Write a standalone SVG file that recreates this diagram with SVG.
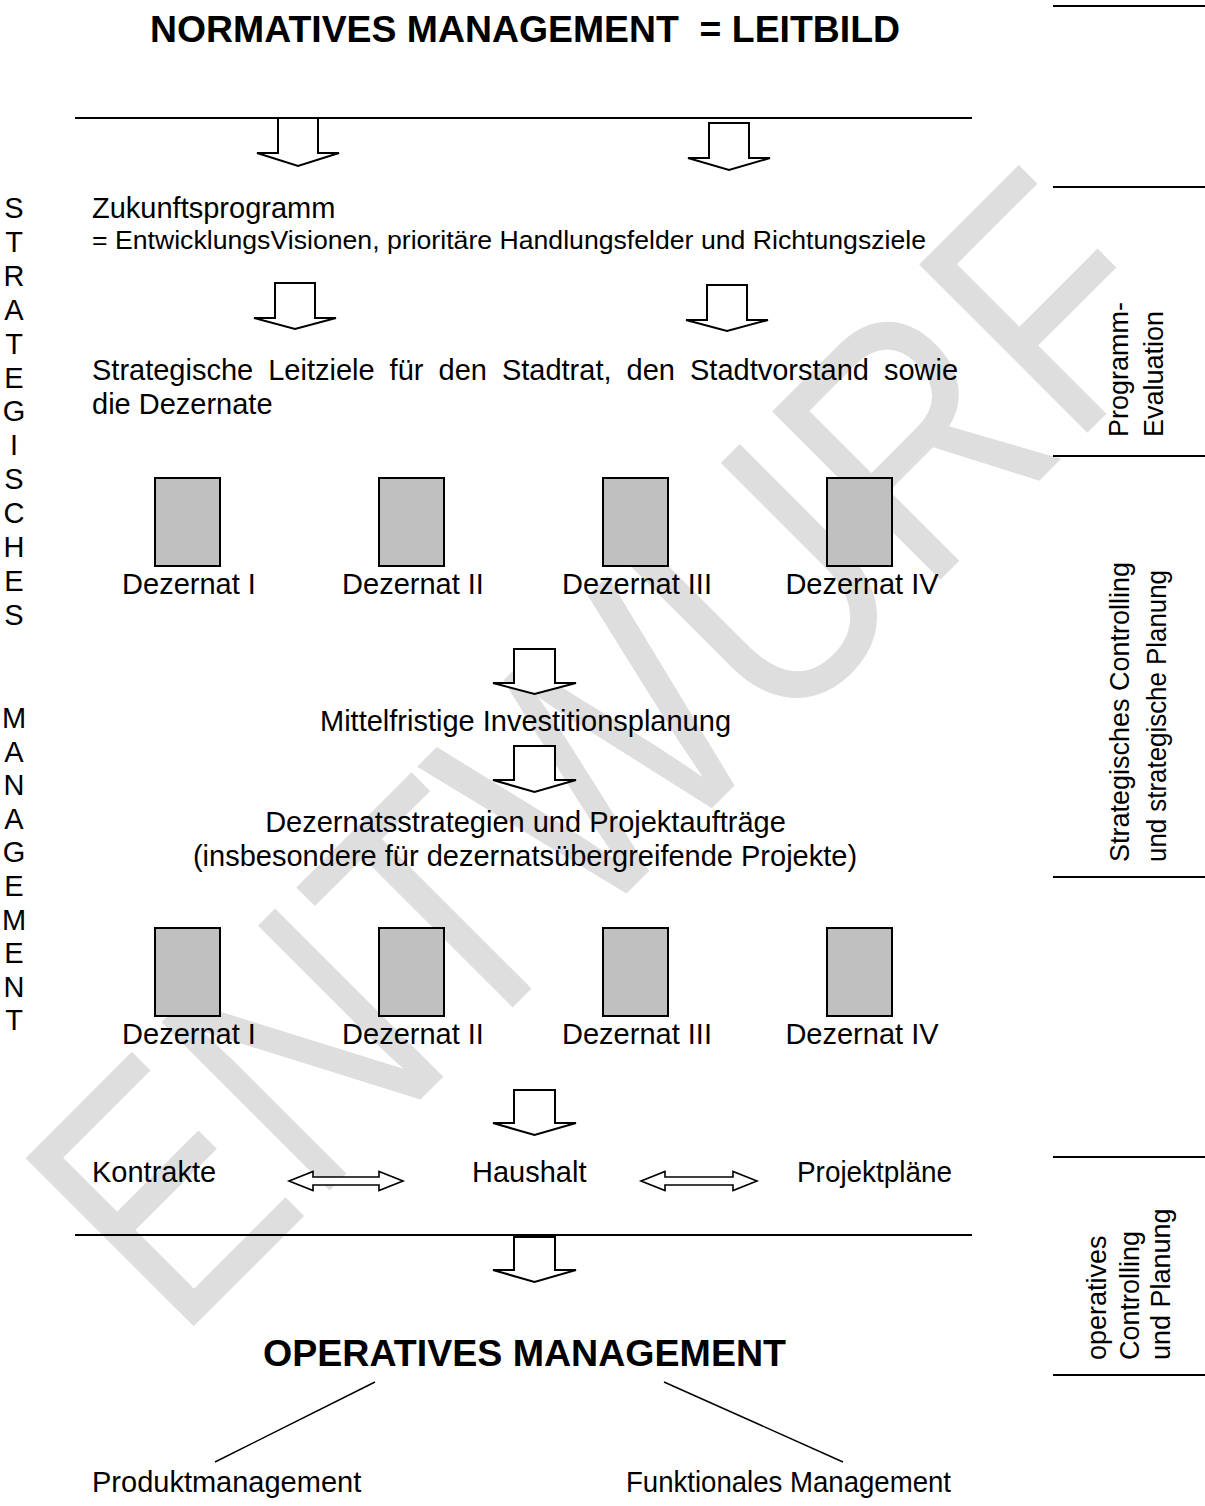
<svg xmlns="http://www.w3.org/2000/svg" width="1205" height="1506" viewBox="0 0 1205 1506">
<style>
text{font-family:"Liberation Sans",Arial,sans-serif;fill:#000}
.b{font-size:29px}
.bold{font-weight:bold}
.rl{font-size:27px}
.col{font-size:29px;text-anchor:middle}
.mid{text-anchor:middle}
.wm{font-size:288px;fill:#dedede}
.box{fill:#c0c0c0;stroke:#000;stroke-width:2}
.arr{fill:#fff;stroke:#000;stroke-width:2;stroke-linejoin:miter}
.dbl{fill:#fff;stroke:#000;stroke-width:1.6}
.ln{stroke:#000;stroke-width:2;fill:none}
.thin{stroke:#000;stroke-width:1.5;fill:none}
</style>
<rect width="1205" height="1506" fill="#fff"/>
<g id="watermark">
<text class="wm" transform="translate(177,1343) rotate(-45) scale(1,1.2)">ENTWURF</text>
</g>
<g id="title">
<text class="bold" x="150" y="42" font-size="37" textLength="750" lengthAdjust="spacingAndGlyphs" style="white-space:pre">NORMATIVES MANAGEMENT  = LEITBILD</text>
</g>
<g id="left-label">
<text class="col"><tspan x="14" y="218">S</tspan><tspan x="14" y="251.9">T</tspan><tspan x="14" y="285.8">R</tspan><tspan x="14" y="319.7">A</tspan><tspan x="14" y="353.6">T</tspan><tspan x="14" y="387.5">E</tspan><tspan x="14" y="421.4">G</tspan><tspan x="14" y="455.3">I</tspan><tspan x="14" y="489.2">S</tspan><tspan x="14" y="523.1">C</tspan><tspan x="14" y="557">H</tspan><tspan x="14" y="590.9">E</tspan><tspan x="14" y="624.8">S</tspan></text>
<text class="col"><tspan x="14" y="728">M</tspan><tspan x="14" y="761.6">A</tspan><tspan x="14" y="795.2">N</tspan><tspan x="14" y="828.8">A</tspan><tspan x="14" y="862.4">G</tspan><tspan x="14" y="896">E</tspan><tspan x="14" y="929.6">M</tspan><tspan x="14" y="963.2">E</tspan><tspan x="14" y="996.8">N</tspan><tspan x="14" y="1030.4">T</tspan></text>
</g>
<g id="right-labels">
<line class="ln" x1="1053" y1="6" x2="1205" y2="6"/>
<line class="ln" x1="1053" y1="187" x2="1205" y2="187"/>
<line class="ln" x1="1053" y1="456" x2="1205" y2="456"/>
<line class="ln" x1="1053" y1="877" x2="1205" y2="877"/>
<line class="ln" x1="1053" y1="1157" x2="1205" y2="1157"/>
<line class="ln" x1="1053" y1="1375" x2="1205" y2="1375"/>
<text class="rl" transform="translate(1128,437) rotate(-90)">Programm-</text>
<text class="rl" transform="translate(1163,437) rotate(-90)">Evaluation</text>
<text class="rl" transform="translate(1129,862) rotate(-90)" textLength="300" lengthAdjust="spacingAndGlyphs">Strategisches Controlling</text>
<text class="rl" transform="translate(1166,862) rotate(-90)" textLength="292" lengthAdjust="spacingAndGlyphs">und strategische Planung</text>
<text class="rl" transform="translate(1106,1360) rotate(-90)">operatives</text>
<text class="rl" transform="translate(1139,1360) rotate(-90)">Controlling</text>
<text class="rl" transform="translate(1170,1360) rotate(-90)">und Planung</text>
</g>
<g id="zukunft">
<text class="b" x="92" y="218">Zukunftsprogramm</text>
<text x="92" y="249" style="font-size:26px" textLength="834" lengthAdjust="spacingAndGlyphs">= EntwicklungsVisionen, prioritäre Handlungsfelder und Richtungsziele</text>
</g>
<g id="leitziele">
<text class="b" y="380"><tspan x="92">Strategische</tspan><tspan x="268.2">Leitziele</tspan><tspan x="389.6">für</tspan><tspan x="438.5">den</tspan><tspan x="501.9">Stadtrat,</tspan><tspan x="626.5">den</tspan><tspan x="690">Stadtvorstand</tspan><tspan x="883.9">sowie</tspan></text>
<text class="b" x="92" y="414">die Dezernate</text>
</g>
<g id="dezernate-1">
<rect class="box" x="155" y="478" width="65" height="88"/>
<rect class="box" x="379" y="478" width="65" height="88"/>
<rect class="box" x="603" y="478" width="65" height="88"/>
<rect class="box" x="827" y="478" width="65" height="88"/>
<text class="b mid" x="189" y="594">Dezernat I</text>
<text class="b mid" x="413" y="594">Dezernat II</text>
<text class="b mid" x="637" y="594">Dezernat III</text>
<text class="b mid" x="862" y="594">Dezernat IV</text>
</g>
<g id="investition">
<text class="b mid" x="525.5" y="731">Mittelfristige Investitionsplanung</text>
</g>
<g id="strategien">
<text class="b mid" x="525.5" y="832">Dezernatsstrategien und Projektaufträge</text>
<text class="b mid" x="525" y="866">(insbesondere für dezernatsübergreifende Projekte)</text>
</g>
<g id="dezernate-2">
<rect class="box" x="155" y="928" width="65" height="88"/>
<rect class="box" x="379" y="928" width="65" height="88"/>
<rect class="box" x="603" y="928" width="65" height="88"/>
<rect class="box" x="827" y="928" width="65" height="88"/>
<text class="b mid" x="189" y="1044">Dezernat I</text>
<text class="b mid" x="413" y="1044">Dezernat II</text>
<text class="b mid" x="637" y="1044">Dezernat III</text>
<text class="b mid" x="862" y="1044">Dezernat IV</text>
</g>
<g id="kontrakte"><text class="b" x="92" y="1182">Kontrakte</text></g>
<g id="haushalt"><text class="b" x="472" y="1182">Haushalt</text></g>
<g id="projektplaene"><text class="b" x="797" y="1182" textLength="155" lengthAdjust="spacingAndGlyphs">Projektpläne</text></g>
<g id="operativ">
<text class="bold" x="263" y="1366" font-size="36.5" textLength="523" lengthAdjust="spacingAndGlyphs">OPERATIVES MANAGEMENT</text>
</g>
<g id="produkt"><text class="b" x="92" y="1492">Produktmanagement</text></g>
<g id="funktional"><text class="b" x="626" y="1492" textLength="325" lengthAdjust="spacingAndGlyphs">Funktionales Management</text></g>
<g id="connectors">
<line class="ln" x1="75" y1="118" x2="972" y2="118"/>
<line class="ln" x1="75" y1="1235" x2="972" y2="1235"/>
<polygon class="arr" points="278,118 318,118 318,153 339,153 298,166 257,153 278,153"/>
<polygon class="arr" points="709,123 749,123 749,158 770,158 729,170 688,158 709,158"/>
<polygon class="arr" points="275,283 315,283 315,318 336,318 295,329 254,318 275,318"/>
<polygon class="arr" points="707,285 747,285 747,320 768,320 727,331 686,320 707,320"/>
<polygon class="arr" points="514,649 555,649 555,683 576,683 534.5,694 493,683 514,683"/>
<polygon class="arr" points="514,746 555,746 555,780 576,780 534.5,792 493,780 514,780"/>
<polygon class="arr" points="514,1090 555,1090 555,1123 576,1123 534.5,1135 493,1123 514,1123"/>
<polygon class="arr" points="514,1237 555,1237 555,1270 576,1270 534.5,1282 493,1270 514,1270"/>
<polygon class="dbl" points="289,1181 313,1171.5 313,1177 379,1177 379,1171.5 403,1181 379,1190.5 379,1185 313,1185 313,1190.5"/>
<polygon class="dbl" points="641,1181 665,1171.5 665,1177 733,1177 733,1171.5 757,1181 733,1190.5 733,1185 665,1185 665,1190.5"/>
<line class="thin" x1="375" y1="1382" x2="215" y2="1462"/>
<line class="thin" x1="664" y1="1382" x2="843" y2="1462"/>
</g>
</svg>
